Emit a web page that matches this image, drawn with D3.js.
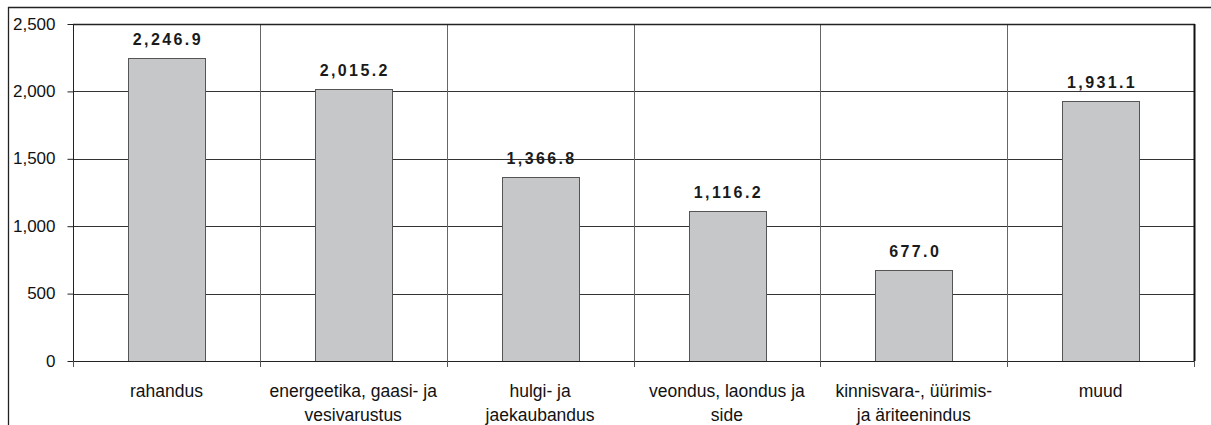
<!DOCTYPE html>
<html><head><meta charset="utf-8">
<script src="https://cdn.jsdelivr.net/npm/d3@7"></script>
<style>body{margin:0;background:#fff}svg{display:block}</style>
</head><body>
<svg id="c" width="1211" height="425"></svg>
<script>
const categories = [
  ["rahandus"],
  ["energeetika, gaasi- ja", "vesivarustus"],
  ["hulgi- ja", "jaekaubandus"],
  ["veondus, laondus ja", "side"],
  ["kinnisvara-, üürimis-", "ja äriteenindus"],
  ["muud"]
];
const values = [2246.9, 2015.2, 1366.8, 1116.2, 677.0, 1931.1];
const yTicks = [0, 500, 1000, 1500, 2000, 2500];

const FONT = "Arial, 'Liberation Sans', sans-serif";
const svg = d3.select("#c");
const m = {left: 73, top: 24, right: 1194, bottom: 361};
const ids = categories.map((d, i) => i);
const x = d3.scaleBand().domain(ids).range([m.left, m.right]).paddingInner(0).paddingOuter(0);
const y = d3.scaleLinear().domain([0, 2500]).range([m.bottom, m.top]);
const fmtTick = d3.format(",");
const fmtVal = d3.format(",.1f");

// outer frame (top and left)
svg.append("line").attr("x1", 8).attr("x2", 1211).attr("y1", 7.5).attr("y2", 7.5).attr("stroke", "#222").attr("stroke-width", 1.3);
svg.append("line").attr("x1", 8.5).attr("x2", 8.5).attr("y1", 7).attr("y2", 425).attr("stroke", "#222").attr("stroke-width", 1.3);

// horizontal gridlines
svg.append("g").selectAll("line").data(yTicks.filter(t => t > 0)).join("line")
  .attr("x1", m.left).attr("x2", m.right)
  .attr("y1", d => Math.round(y(d)) + 0.5).attr("y2", d => Math.round(y(d)) + 0.5)
  .attr("stroke", "#333").attr("stroke-width", 1);

// vertical gridlines at category boundaries
const bounds = ids.slice(1).map(i => x(i));
svg.append("g").selectAll("line").data(bounds).join("line")
  .attr("x1", d => Math.round(d) + 0.5).attr("x2", d => Math.round(d) + 0.5)
  .attr("y1", m.top).attr("y2", m.bottom)
  .attr("stroke", "#666").attr("stroke-width", 1);

// bars
const bw = x.bandwidth() * 0.41;
svg.append("g").selectAll("rect").data(values).join("rect")
  .attr("x", (d, i) => Math.round(x(i) + (x.bandwidth() - bw) / 2) + 0.5)
  .attr("y", d => Math.round(y(d)) + 0.5)
  .attr("width", Math.round(bw))
  .attr("height", d => Math.round(y(0)) - Math.round(y(d)))
  .attr("fill", "#c6c7c9").attr("stroke", "#555").attr("stroke-width", 1);

// plot border: top and right
svg.append("line").attr("x1", m.left).attr("x2", m.right + 1).attr("y1", m.top + 0.5).attr("y2", m.top + 0.5).attr("stroke", "#222").attr("stroke-width", 1.3);
svg.append("line").attr("x1", m.right + 0.5).attr("x2", m.right + 0.5).attr("y1", m.top).attr("y2", m.bottom).attr("stroke", "#111").attr("stroke-width", 2);

// y axis
const yAxis = d3.axisLeft(y).tickValues(yTicks).tickFormat(fmtTick).tickSize(6).tickPadding(10);
const ga = svg.append("g").attr("transform", `translate(${m.left + 0.5},0)`).call(yAxis);
ga.attr("font-family", FONT).attr("font-size", 17);
ga.select(".domain").attr("stroke", "#222").attr("d", `M0,${m.top}V${m.bottom}`);
ga.selectAll(".tick line").attr("stroke", "#222");
ga.selectAll(".tick text").attr("fill", "#111").attr("x", -18).attr("dy", "0.3em");

// x axis baseline + ticks at boundaries
svg.append("line").attr("x1", m.left).attr("x2", m.right + 1).attr("y1", Math.round(y(0)) + 0.5).attr("y2", Math.round(y(0)) + 0.5).attr("stroke", "#222").attr("stroke-width", 1.2);
const tickXs = [m.left].concat(bounds).concat([m.right]);
svg.append("g").selectAll("line").data(tickXs).join("line")
  .attr("x1", d => Math.round(d) + 0.5).attr("x2", d => Math.round(d) + 0.5)
  .attr("y1", m.bottom).attr("y2", m.bottom + 6)
  .attr("stroke", "#555");

// category labels
const cl = svg.append("g").attr("font-family", FONT).attr("font-size", 17.5).attr("fill", "#111").attr("text-anchor", "middle");
categories.forEach((lines, i) => {
  const t = cl.append("text").attr("x", x(i) + x.bandwidth() / 2).attr("y", 397);
  lines.forEach((s, j) => t.append("tspan").attr("x", x(i) + x.bandwidth() / 2).attr("dy", j === 0 ? 0 : 23.5).text(s));
});

// value labels
svg.append("g").selectAll("text").data(values).join("text")
  .attr("x", (d, i) => x(i) + x.bandwidth() / 2 + 1.5)
  .attr("y", d => y(d) - 13)
  .attr("text-anchor", "middle")
  .attr("font-family", FONT).attr("font-weight", "bold")
  .attr("font-size", 16).attr("letter-spacing", 2.4).attr("fill", "#1a1a1a")
  .text(d => fmtVal(d));
</script>
</body></html>
